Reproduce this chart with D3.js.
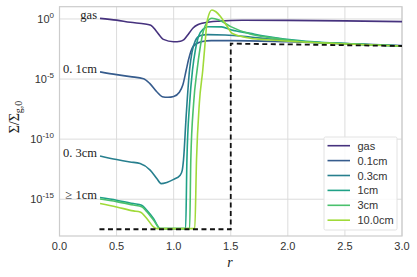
<!DOCTYPE html>
<html>
<head>
<meta charset="utf-8">
<script src="https://cdn.jsdelivr.net/npm/d3@7"></script>
<style>
  body { margin: 0; background: #fff; }
  svg { display: block; }
  .tick-label { font-family: "Liberation Sans", Arial, sans-serif; font-size: 11px; fill: #333; }
  .serif { font-family: "Liberation Serif", "DejaVu Serif", serif; fill: #222; }
</style>
</head>
<body>
<div id="chart"></div>
<script>
// valori: r e log10(Sigma/Sigma_g0)
const seriesNames = ["gas", "0.1cm", "0.3cm", "1cm", "3cm", "10.0cm"];

const gasR   = [0.355, 0.5, 0.62, 0.75, 0.8, 0.852, 0.91, 1.0, 1.06, 1.09, 1.13, 1.17, 1.21, 1.26, 1.4, 1.6, 2.0, 2.5, 3.0];
const gasLog = [0.05, -0.1, -0.28, -0.42, -0.52, -1.06, -1.7, -1.9, -1.85, -1.72, -1.25, -0.75, -0.48, -0.34, -0.18, -0.11, -0.12, -0.16, -0.22];

const d01R   = [0.355, 0.5, 0.62, 0.736, 0.79, 0.852, 0.9, 0.95, 1.0, 1.05, 1.08, 1.11, 1.13, 1.17, 1.24, 1.33, 1.5, 2.0, 2.5, 3.0];
const d01Log = [-4.4, -4.63, -4.8, -4.97, -5.36, -6.06, -6.47, -6.52, -6.45, -6.1, -5.5, -4.25, -3.4, -2.3, -1.89, -1.8, -1.8, -1.9, -2.05, -2.22];

const d03R   = [0.355, 0.5, 0.618, 0.706, 0.794, 0.852, 0.89, 0.94, 1.0, 1.057, 1.075, 1.086, 1.11, 1.139, 1.16, 1.19, 1.23, 1.3, 1.45, 1.67, 1.85, 2.1, 2.5, 3.0];
const d03Log = [-11.4, -11.7, -11.9, -12.03, -12.58, -13.28, -13.7, -13.6, -13.35, -13.0, -12.6, -11.75, -8.0, -4.25, -2.8, -1.8, -1.4, -1.3, -1.33, -1.5, -1.68, -1.88, -2.06, -2.25];

const d1R    = [0.355, 0.5, 0.647, 0.72, 0.765, 0.823, 0.882, 1.105, 1.116, 1.14, 1.165, 1.19, 1.22, 1.26, 1.3, 1.42, 1.5, 1.67, 1.85, 2.1, 2.5, 3.0];
const d1Log  = [-14.86, -15.08, -15.36, -15.5, -15.92, -16.6, -17.45, -17.45, -11.75, -7.0, -4.25, -2.6, -1.4, -0.85, -0.65, -0.66, -0.9, -1.2, -1.5, -1.8, -2.05, -2.25];

const d3R    = [0.355, 0.5, 0.647, 0.72, 0.765, 0.823, 0.885, 1.14, 1.15, 1.175, 1.205, 1.23, 1.26, 1.29, 1.335, 1.4, 1.5, 1.67, 1.85, 2.1, 2.5, 3.0];
const d3Log  = [-14.98, -15.2, -15.48, -15.62, -16.04, -16.72, -17.45, -17.45, -11.75, -7.0, -4.25, -2.5, -1.0, -0.3, 0.06, -0.1, -0.64, -1.25, -1.55, -1.85, -2.05, -2.25];

const d10R   = [0.355, 0.5, 0.647, 0.706, 0.765, 0.823, 0.855, 1.185, 1.2, 1.225, 1.255, 1.27, 1.295, 1.335, 1.37, 1.41, 1.47, 1.51, 1.67, 1.85, 2.1, 2.5, 3.0];
const d10Log = [-15.36, -15.64, -15.97, -16.06, -16.6, -17.3, -17.45, -17.45, -11.75, -7.0, -4.25, -2.6, -0.1, 0.75, 0.6, 0.2, -0.64, -1.19, -1.6, -1.75, -1.9, -2.08, -2.25];

const floorR   = [0.35, 1.5, 1.5, 3.0];
const floorLog = [-17.5, -17.5, -2.05, -2.25];

const curveLabels = ["gas", "0. 1cm", "0. 3cm", "\u2265 1cm"];
const curveLabelLog = [0.05, -4.4, -11.4, -14.9];

const xTicks = [0, 0.5, 1.0, 1.5, 2.0, 2.5, 3.0];
const yTickExp = [0, -5, -10, -15];

const W = 417, H = 277;
const x = d3.scaleLinear().domain([0, 3]).range([59.5, 402]);
const y = d3.scaleLog().domain([Math.pow(10, -18.06), Math.pow(10, 1.02)]).range([236, 6.7]);

const colors = seriesNames.map((_, i) => d3.interpolateViridis((i + 1) / 7));

const svg = d3.select("#chart").append("svg").attr("width", W).attr("height", H);

// griglia
const grid = svg.append("g");
grid.selectAll("line.gx").data(xTicks).enter().append("line")
  .attr("x1", d => x(d)).attr("x2", d => x(d))
  .attr("y1", y.range()[1]).attr("y2", y.range()[0])
  .attr("stroke", "#dcdcdc").attr("stroke-width", 1);
grid.selectAll("line.gy").data(yTickExp).enter().append("line")
  .attr("x1", x.range()[0]).attr("x2", x.range()[1])
  .attr("y1", d => y(Math.pow(10, d))).attr("y2", d => y(Math.pow(10, d)))
  .attr("stroke", "#dcdcdc").attr("stroke-width", 1);

svg.append("rect")
  .attr("x", x.range()[0]).attr("y", y.range()[1])
  .attr("width", x.range()[1] - x.range()[0]).attr("height", y.range()[0] - y.range()[1])
  .attr("fill", "none").attr("stroke", "#cccccc").attr("stroke-width", 1.2);

// etichette assi
svg.selectAll("text.xt").data(xTicks).enter().append("text")
  .attr("class", "tick-label")
  .attr("x", d => x(d)).attr("y", 250)
  .attr("text-anchor", "middle")
  .text(d => d.toFixed(1));

const yt = svg.selectAll("text.yt").data(yTickExp).enter().append("text")
  .attr("class", "tick-label")
  .attr("x", 54).attr("y", d => y(Math.pow(10, d)) + 4)
  .attr("text-anchor", "end");
yt.append("tspan").text("10");
yt.append("tspan").attr("dy", -5).style("font-size", "8px").text(d => d === 0 ? "0" : "-" + Math.abs(d));

// linee
const line = d3.line()
  .x(d => x(d[0]))
  .y(d => y(Math.pow(10, d[1])))
  .curve(d3.curveMonotoneX);

const allR = [gasR, d01R, d03R, d1R, d3R, d10R];
const allLog = [gasLog, d01Log, d03Log, d1Log, d3Log, d10Log];

const clip = svg.append("clipPath").attr("id", "clip").append("rect")
  .attr("x", x.range()[0]).attr("y", y.range()[1])
  .attr("width", x.range()[1] - x.range()[0]).attr("height", y.range()[0] - y.range()[1]);

const lines = svg.append("g").attr("clip-path", "url(#clip)");
for (let i = 0; i < allR.length; i++) {
  lines.append("path")
    .datum(d3.zip(allR[i], allLog[i]))
    .attr("d", line)
    .attr("fill", "none")
    .attr("stroke", colors[i])
    .attr("stroke-width", 1.6);
}

lines.append("path")
  .datum(d3.zip(floorR, floorLog))
  .attr("d", d3.line().x(d => x(d[0])).y(d => y(Math.pow(10, d[1]))))
  .attr("fill", "none")
  .attr("stroke", "#111")
  .attr("stroke-width", 1.8)
  .attr("stroke-dasharray", "5,3.5");

// etichette curve
svg.selectAll("text.cl").data(curveLabels).enter().append("text")
  .attr("class", "serif")
  .attr("x", 97).attr("y", (d, i) => y(Math.pow(10, curveLabelLog[i])) + 1)
  .attr("text-anchor", "end")
  .style("font-size", "12.5px")
  .text(d => d);

// titolo assi
svg.append("text").attr("class", "serif")
  .attr("x", 230).attr("y", 267)
  .attr("text-anchor", "middle")
  .style("font-size", "14px").style("font-style", "italic")
  .text("r");

const yl = svg.append("text").attr("class", "serif")
  .attr("transform", "translate(19,117) rotate(-90)")
  .attr("text-anchor", "middle")
  .style("font-size", "14px");
yl.append("tspan").text("\u03A3/\u03A3");
yl.append("tspan").attr("dy", 3).style("font-size", "10px").text("g,0");

// legenda
const lg = svg.append("g").attr("transform", "translate(324,137)");
lg.append("rect").attr("width", 73).attr("height", 93)
  .attr("fill", "#fff").attr("fill-opacity", 0.85)
  .attr("stroke", "#e2e2e2").attr("stroke-width", 1).attr("rx", 1.5);
seriesNames.forEach((name, i) => {
  const yy = 8.7 + i * 14.9;
  lg.append("line").attr("x1", 3.5).attr("x2", 26).attr("y1", yy).attr("y2", yy)
    .attr("stroke", colors[i]).attr("stroke-width", 1.6);
  lg.append("text").attr("class", "tick-label")
    .attr("x", 33.5).attr("y", yy + 4)
    .text(name);
});
</script>
</body>
</html>
